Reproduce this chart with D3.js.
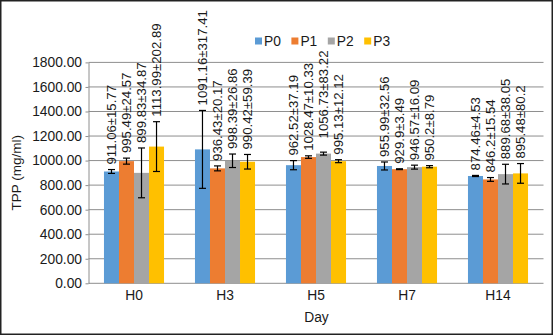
<!DOCTYPE html>
<html>
<head>
<meta charset="utf-8">
<script src="https://cdn.jsdelivr.net/npm/d3@7"></script>
<style>
  body { margin: 0; background: #fff; }
  svg { display: block; font-family: "Liberation Sans", Arial, sans-serif; }
</style>
</head>
<body>
<div id="chart"></div>
<script>
var days = ['H0', 'H3', 'H5', 'H7', 'H14'];
var groups = ['P0', 'P1', 'P2', 'P3'];
var colors = ['#5b9bd5', '#ed7d31', '#a5a5a5', '#ffc000'];

// mean values per day, one array per group (from the labels)
var meanP0 = [911.06, 1091.16, 962.52, 955.99, 874.46];
var meanP1 = [995.49, 936.43, 1028.47, 929.9, 846.2];
var meanP2 = [899.83, 998.39, 1056.73, 946.57, 889.68];
var meanP3 = [1113.99, 990.42, 995.13, 950.2, 895.48];

// sd printed in the labels
var sdP0 = [15.77, 317.41, 37.19, 32.56, 4.53];
var sdP1 = [24.57, 20.17, 10.33, 3.49, 15.54];
var sdP2 = [34.87, 26.86, 83.22, 16.09, 38.05];
var sdP3 = [202.89, 59.39, 12.12, 8.79, 80.2];

// error bars as drawn in the picture (not always the printed sd)
var errP0 = [15.77, 317.41, 37.19, 32.56, 4.53];
var errP1 = [24.57, 20.17, 10.33, 3.49, 15.54];
var errP2 = [202.89, 55, 12, 16.09, 80.2];
var errP3 = [202.89, 59.39, 12.12, 8.79, 80.2];

var yTicks = [0, 200, 400, 600, 800, 1000, 1200, 1400, 1600, 1800];

var means = [meanP0, meanP1, meanP2, meanP3];
var sds = [sdP0, sdP1, sdP2, sdP3];
var errs = [errP0, errP1, errP2, errP3];

var width = 553, height = 335;
var plotLeft = 88.5, plotRight = 543.5, plotTop = 62.4, plotBottom = 283.3;
var ink = '#1a1a1a';

var svg = d3.select('#chart').append('svg')
  .attr('width', width)
  .attr('height', height);

svg.append('rect')
  .attr('x', 0.75).attr('y', 0.75)
  .attr('width', width - 1.5).attr('height', height - 1.5)
  .attr('fill', '#fff')
  .attr('stroke', '#222')
  .attr('stroke-width', 1.5);

var x0 = d3.scaleBand().domain(days).range([plotLeft, plotRight])
  .paddingInner(0.34).paddingOuter(0.17);
var x1 = d3.scaleBand().domain(groups).range([0, x0.bandwidth()]);
var y = d3.scaleLinear().domain([0, 1800]).range([plotBottom, plotTop]);

// gridlines
svg.append('g').selectAll('line')
  .data(yTicks.filter(d => d > 0))
  .enter().append('line')
  .attr('x1', plotLeft).attr('x2', plotRight)
  .attr('y1', d => y(d)).attr('y2', d => y(d))
  .attr('stroke', '#8e8e8e').attr('stroke-width', 1);

// y axis
var yAxis = svg.append('g')
  .attr('transform', 'translate(' + plotLeft + ',0)')
  .call(d3.axisLeft(y).tickValues(yTicks).tickFormat(d3.format('.2f')).tickSize(3).tickSizeOuter(0));
yAxis.select('.domain').attr('stroke', '#8e8e8e');
yAxis.selectAll('.tick line').attr('stroke', '#8e8e8e');
yAxis.selectAll('.tick text')
  .attr('x', -6.5)
  .attr('fill', ink)
  .style('font-size', '13.8px')
  .style('font-family', '"Liberation Sans", Arial, sans-serif');

// x axis line
svg.append('line')
  .attr('x1', plotLeft).attr('x2', plotRight)
  .attr('y1', plotBottom).attr('y2', plotBottom)
  .attr('stroke', '#8e8e8e');

svg.append('g').selectAll('text')
  .data(days)
  .enter().append('text')
  .attr('x', d => x0(d) + x0.bandwidth() / 2)
  .attr('y', 300)
  .attr('text-anchor', 'middle')
  .attr('fill', ink)
  .style('font-size', '13.8px')
  .text(d => d);

// bars, error bars, labels
var cells = [];
groups.forEach(function (g, gi) {
  days.forEach(function (d, di) {
    cells.push({ day: d, group: g, gi: gi, mean: means[gi][di], sd: sds[gi][di], err: errs[gi][di] });
  });
});

var barG = svg.append('g');
barG.selectAll('rect')
  .data(cells)
  .enter().append('rect')
  .attr('x', d => x0(d.day) + x1(d.group))
  .attr('y', d => y(d.mean))
  .attr('width', x1.bandwidth())
  .attr('height', d => plotBottom - y(d.mean))
  .attr('fill', d => colors[d.gi]);

var errG = svg.append('g').attr('stroke', '#000').attr('stroke-width', 1.2);
cells.forEach(function (d) {
  var cx = x0(d.day) + x1(d.group) + x1.bandwidth() / 2;
  var y1 = y(d.mean + d.err), y2 = y(d.mean - d.err);
  errG.append('line').attr('x1', cx).attr('x2', cx).attr('y1', y1).attr('y2', y2);
  errG.append('line').attr('x1', cx - 3.5).attr('x2', cx + 3.5).attr('y1', y1).attr('y2', y1);
  errG.append('line').attr('x1', cx - 3.5).attr('x2', cx + 3.5).attr('y1', y2).attr('y2', y2);
});

svg.append('g').selectAll('text')
  .data(cells)
  .enter().append('text')
  .attr('transform', function (d) {
    var cx = x0(d.day) + x1(d.group) + x1.bandwidth() / 2;
    var ys = y(d.mean + Math.max(d.err, d.sd)) - 5;
    return 'translate(' + cx + ',' + ys + ') rotate(-90)';
  })
  .attr('dy', '0.36em')
  .attr('text-anchor', 'start')
  .attr('fill', ink)
  .style('font-size', '13.2px')
  .text(d => d.mean + '±' + d.sd);

// axis titles
svg.append('text')
  .attr('transform', 'translate(16,' + ((plotTop + plotBottom) / 2) + ') rotate(-90)')
  .attr('dy', '0.36em')
  .attr('text-anchor', 'middle')
  .attr('fill', ink)
  .style('font-size', '13.5px')
  .text('TPP (mg/ml)');

svg.append('text')
  .attr('x', 316.5).attr('y', 321.5)
  .attr('text-anchor', 'middle')
  .attr('fill', ink)
  .style('font-size', '13.8px')
  .text('Day');

// legend
var legend = svg.append('g').selectAll('g')
  .data(groups)
  .enter().append('g')
  .attr('transform', (d, i) => 'translate(' + (255 + i * 36.4) + ',37.5)');
legend.append('rect')
  .attr('width', 7).attr('height', 7)
  .attr('fill', (d, i) => colors[i]);
legend.append('text')
  .attr('x', 9).attr('y', 3.5)
  .attr('dy', '0.36em')
  .attr('fill', ink)
  .style('font-size', '13.8px')
  .text(d => d);
</script>
</body>
</html>
